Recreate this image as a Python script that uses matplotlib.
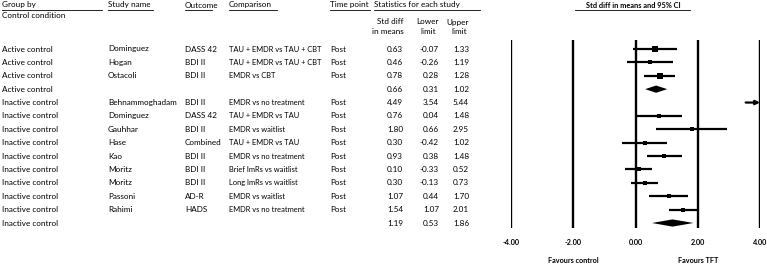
import numpy as np
import matplotlib
matplotlib.use("Agg")
import matplotlib.pyplot as plt
from matplotlib.transforms import blended_transform_factory
from matplotlib.patches import Polygon

plt.rcParams["font.family"] = ["Lato", "DejaVu Sans"]

groups = ["Active control"] * 4 + ["Inactive control"] * 10
studies = ["Dominguez", "Hogan", "Ostacoli", "",
           "Behnammoghadam", "Dominguez", "Gauhhar", "Hase", "Kao",
           "Moritz", "Moritz", "Passoni", "Rahimi", ""]
outcomes = ["DASS 42", "BDI II", "BDI II", "",
            "BDI II", "DASS 42", "BDI II", "Combined", "BDI II",
            "BDI II", "BDI II", "AD-R", "HADS", ""]
comparisons = ["TAU + EMDR vs TAU + CBT", "TAU + EMDR vs TAU + CBT", "EMDR vs CBT", "",
               "EMDR vs no treatment", "TAU + EMDR vs TAU", "EMDR vs waitlist",
               "TAU + EMDR vs TAU", "EMDR vs no treatment", "Brief ImRs vs waitlist",
               "Long ImRs vs waitlist", "EMDR vs waitlist", "EMDR vs no treatment", ""]
timepoints = ["Post", "Post", "Post", "",
              "Post", "Post", "Post", "Post", "Post", "Post", "Post", "Post", "Post", ""]
smd = [0.63, 0.46, 0.78, 0.66, 4.49, 0.76, 1.80, 0.30, 0.93, 0.10, 0.30, 1.07, 1.54, 1.19]
lower = [-0.07, -0.26, 0.28, 0.31, 3.54, 0.04, 0.66, -0.42, 0.38, -0.33, -0.13, 0.44, 1.07, 0.53]
upper = [1.33, 1.19, 1.28, 1.02, 5.44, 1.48, 2.95, 1.02, 1.48, 0.52, 0.73, 1.70, 2.01, 1.86]
is_summary = [False, False, False, True] + [False] * 9 + [True]
box_px = [5, 4, 6, 0, 0, 3, 3, 4, 4, 4, 4, 4, 4, 0]
xticks = [-4, -2, 0, 2, 4]

W, H = 767, 274
fig = plt.figure(figsize=(W / 100, H / 100), dpi=100)
row0, step = 49, 13.385
y_top = -row0 / step
y_bot = (H - row0) / step
ax = fig.add_axes([511 / W, 0, 249 / W, 1])
ax.set_xlim(-4, 4)
ax.set_ylim(y_bot, y_top)
ax.axis("off")

fs = 5.9
fs_b = 5.2

# vertical reference lines
for xt in xticks:
    ax.plot([xt, xt], [-0.67, 13.38], color="black", lw=1.7, solid_capstyle="butt")
    ax.text(xt, 14.45, f"{xt:.2f}", ha="center", va="center", fontsize=fs_b,
            fontweight="bold")
ax.text(-2, 15.8, "Favours control", ha="center", va="center", fontsize=fs_b, fontweight="bold")
ax.text(2, 15.8, "Favours TFT", ha="center", va="center", fontsize=fs_b, fontweight="bold")

for i in range(len(smd)):
    if is_summary[i]:
        d = 0.27
        ax.add_patch(Polygon([[lower[i], i], [smd[i], i - d], [upper[i], i], [smd[i], i + d]],
                             closed=True, color="black", lw=0))
        continue
    lo, hi = lower[i], upper[i]
    if hi > 4:
        ax.annotate("", xy=(4, i), xytext=(lo, i),
                    arrowprops=dict(arrowstyle="-|>", color="black", lw=1.6,
                                    mutation_scale=6, shrinkA=0, shrinkB=0))
    else:
        ax.plot([lo, hi], [i, i], color="black", lw=1.6, solid_capstyle="butt")
    if smd[i] <= 4 and box_px[i] > 0:
        ax.plot(smd[i], i, marker="s", color="black", ms=box_px[i] * 0.75, mew=0)

# table text
tr = blended_transform_factory(fig.transFigure, ax.transData)
cols_left = [(2, groups, fs), (108, studies, fs), (185, outcomes, fs),
             (229, comparisons, 5.4), (330, timepoints, fs)]
for i in range(len(smd)):
    for x, col, size in cols_left:
        fig.text(x / W, i, col[i], transform=tr, ha="left", va="center", fontsize=size)
    for x, col in [(403, smd), (439, lower), (469, upper)]:
        fig.text(x / W, i, f"{col[i]:.2f}", transform=tr, ha="right", va="center", fontsize=fs)

# headers
def head(x, y, s, ha="left", bold=False, size=fs):
    fig.text(x / W, 1 - y / H, s, ha=ha, va="center", fontsize=size,
             fontweight="bold" if bold else "normal")

def uline(x0, x1, y):
    fig.add_artist(plt.Line2D([x0 / W, x1 / W], [1 - y / H, 1 - y / H],
                              color="black", lw=0.6))

head(2, 5, "Group by")
head(2, 15, "Control condition")
uline(2, 102, 10)
head(108, 5, "Study name")
uline(108, 153, 10)
head(185, 5, "Outcome")
uline(185, 212, 10)
head(229, 5, "Comparison")
uline(229, 277, 10)
head(330, 5, "Time point")
uline(330, 370, 10)
head(374, 5, "Statistics for each study")
uline(374, 480, 10)
head(403, 22, "Std diff", ha="right")
head(404, 31, "in means", ha="right")
head(439, 22, "Lower", ha="right")
head(436, 31, "limit", ha="right")
head(469, 22, "Upper", ha="right")
head(467, 31, "limit", ha="right")
head(633, 5, "Std diff in means and 95% CI", ha="center", bold=True, size=5.3)
uline(575, 690, 10)

fig.savefig("out.png", dpi=100)
